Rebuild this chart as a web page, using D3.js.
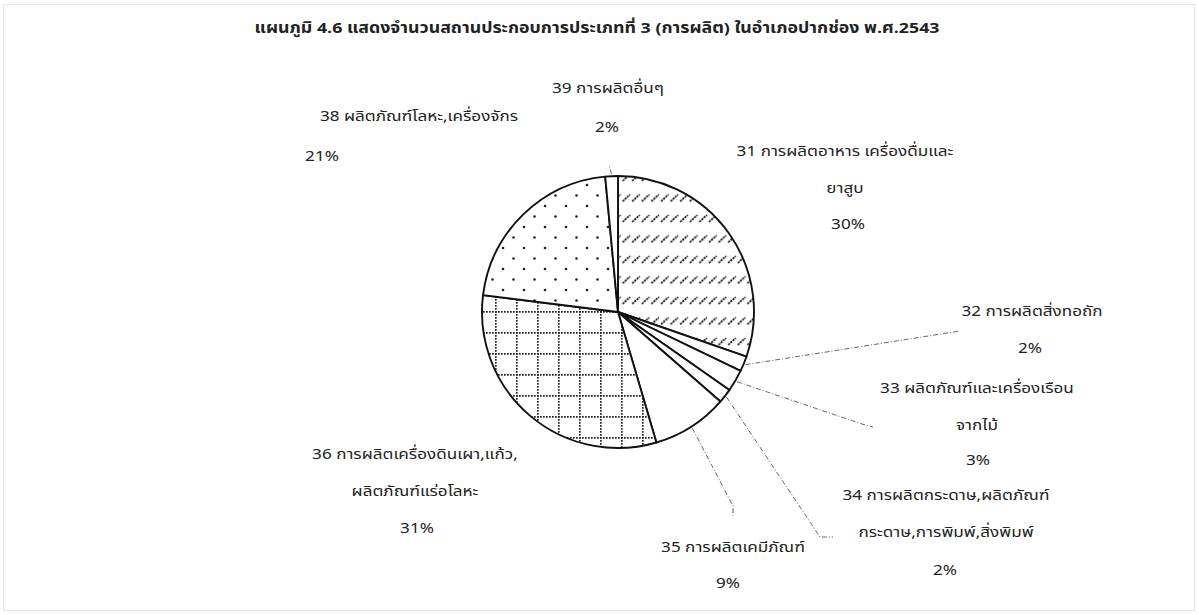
<!DOCTYPE html>
<html><head><meta charset="utf-8">
<script src="https://cdn.jsdelivr.net/npm/d3@7"></script>
<style>
html,body{margin:0;padding:0;background:#fff;}
text{font-family:"Noto Sans Thai","Noto Sans","DejaVu Sans",Arial,sans-serif;fill:#222;}
</style></head>
<body><svg id="c" width="1199" height="615"></svg>
<script>
// ---- data ----
const title = "แผนภูมิ 4.6 แสดงจำนวนสถานประกอบการประเภทที่ 3 (การผลิต) ในอำเภอปากช่อง พ.ศ.2543";
const codes = ["31","32","33","34","35","36","38","39"];
const names = [
  ["31 การผลิตอาหาร เครื่องดื่มและ","ยาสูบ"],
  ["32 การผลิตสิ่งทอถัก"],
  ["33 ผลิตภัณฑ์และเครื่องเรือน","จากไม้"],
  ["34 การผลิตกระดาษ,ผลิตภัณฑ์","กระดาษ,การพิมพ์,สิ่งพิมพ์"],
  ["35 การผลิตเคมีภัณฑ์"],
  ["36 การผลิตเครื่องดินเผา,แก้ว,","ผลิตภัณฑ์แร่อโลหะ"],
  ["38 ผลิตภัณฑ์โลหะ,เครื่องจักร"],
  ["39 การผลิตอื่นๆ"]
];
const values = [30.3, 1.8, 2.6, 1.7, 9.0, 31.5, 21.5, 1.5];
const pctLabels = ["30%","2%","3%","2%","9%","31%","21%","2%"];

// ---- layout ----
const svg = d3.select("#c");
const cx = 618, cy = 312, R = 136;
const FS = 14.5, STRETCH = 1.18;

svg.append("rect").attr("x",3.5).attr("y",4.5).attr("width",1191).attr("height",606)
  .attr("fill","none").attr("stroke","#e6e6e6").attr("stroke-width",1);

const tt = svg.append("text").attr("x",597).attr("y",33).attr("text-anchor","middle")
  .attr("font-size",15).attr("font-weight","bold").attr("fill","#111").text(title);
tt.attr("textLength",685).attr("lengthAdjust","spacingAndGlyphs");

// patterns
const defs = svg.append("defs");
const pHatch = defs.append("pattern").attr("id","hatch").attr("patternUnits","userSpaceOnUse")
  .attr("x",cx).attr("y",cy-2).attr("width",9.6).attr("height",20.5);
pHatch.append("rect").attr("width",9.6).attr("height",20.5).attr("fill","#fff");
pHatch.append("line").attr("x1",1.0).attr("y1",9.8).attr("x2",8.6).attr("y2",3.0)
  .attr("stroke","#111").attr("stroke-width",1.7).attr("stroke-dasharray","2.2,0.8");

const pGrid = defs.append("pattern").attr("id","grid").attr("patternUnits","userSpaceOnUse")
  .attr("x",cx-6).attr("y",cy+2).attr("width",21).attr("height",21);
pGrid.append("rect").attr("width",21).attr("height",21).attr("fill","#fff");
pGrid.append("line").attr("x1",0).attr("y1",0.8).attr("x2",21).attr("y2",0.8)
  .attr("stroke","#222").attr("stroke-width",1.7).attr("stroke-dasharray","1.7,1.3");
pGrid.append("line").attr("x1",0.8).attr("y1",0).attr("x2",0.8).attr("y2",21)
  .attr("stroke","#222").attr("stroke-width",1.7).attr("stroke-dasharray","1.7,1.3");

const pDots = defs.append("pattern").attr("id","dots").attr("patternUnits","userSpaceOnUse")
  .attr("x",cx).attr("y",cy).attr("width",21).attr("height",21);
pDots.append("rect").attr("width",21).attr("height",21).attr("fill","#fff");
pDots.append("circle").attr("cx",2).attr("cy",2).attr("r",1.3).attr("fill","#222");
pDots.append("circle").attr("cx",12.5).attr("cy",12.5).attr("r",1.3).attr("fill","#222");

const fills = ["url(#hatch)","#fff","#fff","#fff","#fff","url(#grid)","url(#dots)","#fff"];

const pie = d3.pie().sort(null).value(d=>d)(values);
const arc = d3.arc().innerRadius(0).outerRadius(R);
const g = svg.append("g").attr("transform",`translate(${cx},${cy})`);
g.selectAll("path").data(pie).join("path")
  .attr("d",arc).attr("fill",(d,i)=>fills[i])
  .attr("stroke","#111").attr("stroke-width",1.9).attr("stroke-linejoin","round");

// label positions: [centerX, baselineY of first line]
const labPos = [[845,156],[1032,316],[977,393],[946,500],[733,552],[415,459],[419,121],[608,93]];
const pctPos = [[848,229],[1030,353],[978,465],[945,575],[728,588],[417,533],[322,161],[607,132]];
const lineGap = 36.5;

function stretchText(sel){
  const w = sel.node().getComputedTextLength();
  sel.attr("textLength", w*STRETCH).attr("lengthAdjust","spacingAndGlyphs");
}
names.forEach((ls,i)=>{
  ls.forEach((s,j)=>{
    const t = svg.append("text").attr("text-anchor","middle").attr("font-size",FS)
      .attr("x",labPos[i][0]).attr("y",labPos[i][1] + j*lineGap).text(s);
    stretchText(t);
  });
  const p = svg.append("text").attr("text-anchor","middle").attr("font-size",FS)
    .attr("x",pctPos[i][0]).attr("y",pctPos[i][1]).text(pctLabels[i]);
  stretchText(p);
});

// leader lines (start at slice edge, end near label)
const leaderEnds = {
  1: [[960,331]],
  2: [[862,424],[873,427]],
  3: [[820,537],[833,537]],
  4: [[733,506],[733,516]],
  7: [[609,165]]
};
Object.keys(leaderEnds).forEach(k=>{
  const d = pie[+k];
  const a = (d.startAngle+d.endAngle)/2;
  const p0 = [cx + Math.sin(a)*(R+2), cy - Math.cos(a)*(R+2)];
  const pts = [p0, ...leaderEnds[k]];
  svg.append("path").attr("d",d3.line()(pts)).attr("fill","none")
    .attr("stroke","#555").attr("stroke-width",0.9).attr("stroke-dasharray","5,2,1,2");
});
</script></body></html>
